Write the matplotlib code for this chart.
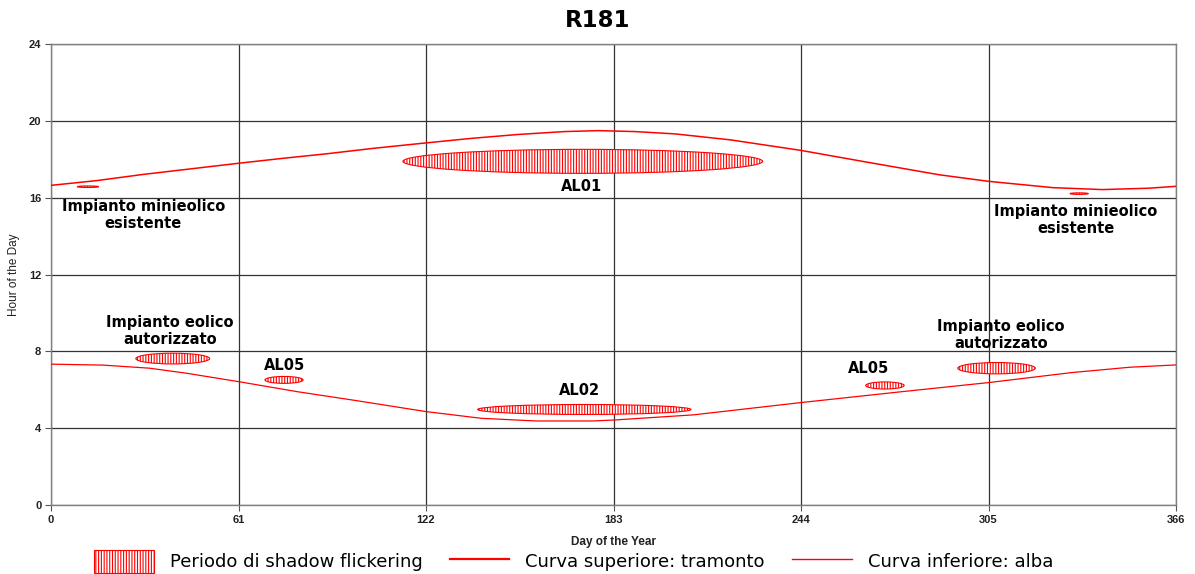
import matplotlib

matplotlib.use("Agg")
import matplotlib.pyplot as plt
from matplotlib.lines import Line2D
from matplotlib.patches import Ellipse, Patch

# curva superiore (tramonto)
sunset_days = [0, 15, 30, 45, 61, 75, 90, 105, 122, 137, 152, 167, 178, 190, 203,
               221, 244, 264, 289, 305, 326, 342, 357, 366]
sunset_hours = [16.65, 16.9, 17.22, 17.5, 17.8, 18.05, 18.3, 18.58, 18.86, 19.1, 19.3,
                19.45, 19.5, 19.45, 19.33, 19.02, 18.47, 17.9, 17.2, 16.86, 16.53,
                16.43, 16.5, 16.6]

# curva inferiore (alba)
sunrise_days = [0, 17, 32, 44, 61, 80, 99, 122, 140, 158, 176, 183, 209, 244, 277,
                305, 332, 351, 366]
sunrise_hours = [7.34, 7.29, 7.13, 6.87, 6.43, 5.91, 5.45, 4.87, 4.52, 4.38, 4.38,
                 4.43, 4.7, 5.34, 5.91, 6.38, 6.9, 7.18, 7.3]

# periodi di shadow flickering: giorno centrale, ora centrale, durata (giorni), ampiezza (ore)
flicker_day = [12, 173, 39.6, 75.8, 173.5, 271.3, 307.6, 334.5]
flicker_hour = [16.58, 17.9, 7.63, 6.52, 4.98, 6.23, 7.13, 16.22]
flicker_len = [7, 117, 24, 12.4, 69.4, 12.5, 25.2, 6]
flicker_amp = [0.08, 1.25, 0.56, 0.36, 0.52, 0.37, 0.59, 0.08]

# etichette
label_text = ["Impianto minieolico\nesistente", "AL01", "Impianto minieolico\nesistente",
              "Impianto eolico\nautorizzato", "AL05", "AL02", "AL05",
              "Impianto eolico\nautorizzato"]
label_day = [30, 172.5, 333.5, 38.7, 76, 172, 266, 309]
label_hour = [15.1, 16.6, 14.85, 9.05, 7.25, 5.95, 7.12, 8.85]

x_ticks = [0, 61, 122, 183, 244, 305, 366]
y_ticks = [0, 4, 8, 12, 16, 20, 24]

RED = "#ff0000"
HATCH = "||||||"

fig = plt.figure(figsize=(11.95, 5.74), dpi=100)
ax = fig.add_axes([0.0427, 0.12, 0.9414, 0.803])

plt.rcParams["hatch.linewidth"] = 0.8

for d, h, w, a in zip(flicker_day, flicker_hour, flicker_len, flicker_amp):
    e = Ellipse((d, h), w, a, facecolor="white", edgecolor=RED, hatch=HATCH,
                linewidth=0.8, zorder=3)
    ax.add_patch(e)

ax.plot(sunset_days, sunset_hours, color=RED, linewidth=1.1, zorder=4)
ax.plot(sunrise_days, sunrise_hours, color=RED, linewidth=0.9, zorder=4)

for t, d, h in zip(label_text, label_day, label_hour):
    ax.text(d, h, t, ha="center", va="center", fontsize=10.5, fontweight="bold",
            family="DejaVu Sans", linespacing=1.15, zorder=5)

ax.set_xlim(0, 366)
ax.set_ylim(0, 24)
ax.set_xticks(x_ticks)
ax.set_yticks(y_ticks)
ax.set_xticklabels([str(v) for v in x_ticks], fontsize=8, fontweight="bold",
                   family="Liberation Sans", color="#222222")
ax.set_yticklabels([str(v) for v in y_ticks], fontsize=8, fontweight="bold",
                   family="Liberation Sans", color="#222222")
ax.tick_params(length=4, width=0.8, color="#555555", pad=3)
ax.grid(True, color="#333333", linewidth=0.9)
ax.set_axisbelow(True)
for s in ax.spines.values():
    s.set_color("#808080")
    s.set_linewidth(1.0)

ax.set_xlabel("Day of the Year", fontsize=8.5, fontweight="bold",
              family="Liberation Sans", labelpad=8, color="#222222")
ax.set_ylabel("Hour of the Day", fontsize=8.5, family="Liberation Sans",
              labelpad=6, color="#222222")
fig.text(0.5, 0.965, "R181", ha="center", va="center", fontsize=16.5,
         fontweight="bold", family="DejaVu Sans")

handles = [
    Patch(facecolor="white", edgecolor=RED, hatch=HATCH, linewidth=0.8),
    Line2D([], [], color=RED, linewidth=1.6),
    Line2D([], [], color=RED, linewidth=1.0),
]
labels = ["Periodo di shadow flickering", "Curva superiore: tramonto",
          "Curva inferiore: alba"]
fig.legend(handles, labels, loc="center", bbox_to_anchor=(0.48, 0.022), ncol=3,
           frameon=False, prop={"family": "DejaVu Sans", "size": 13},
           handlelength=3.3, handleheight=1.6, columnspacing=1.5, handletextpad=0.9)

fig.savefig("out.png", dpi=100)
